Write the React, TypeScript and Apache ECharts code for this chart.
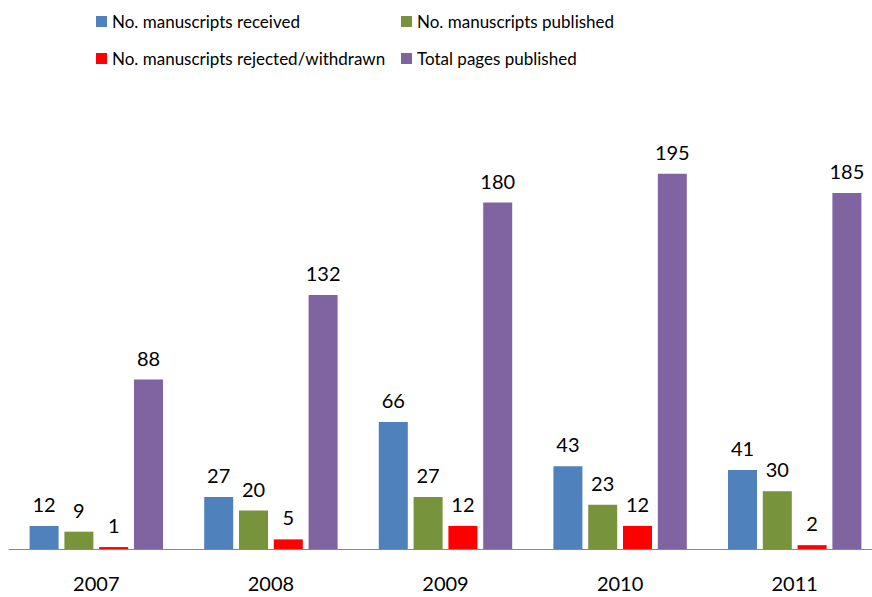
import React, { useEffect, useRef } from "react";
import * as echarts from "echarts";

const years = ["2007", "2008", "2009", "2010", "2011"];
const received = [12, 27, 66, 43, 41];
const published = [9, 20, 27, 23, 30];
const rejected = [1, 5, 12, 12, 2];
const totalPages = [88, 132, 180, 195, 185];

const seriesNames = [
  "No. manuscripts received",
  "No. manuscripts published",
  "No. manuscripts rejected/withdrawn",
  "Total pages published",
];
const colors = ["#4F81BD", "#77933C", "#FF0000", "#8064A2"];
const FONT = "Lato";

export default function App() {
  const ref = useRef<HTMLDivElement>(null);
  useEffect(() => {
    document.body.style.margin = "0";
    const chart = echarts.init(ref.current!, null, { renderer: "svg" });
    const datasets = [received, published, rejected, totalPages];
    const legendBase = {
      orient: "vertical",
      top: 13,
      padding: 0,
      itemWidth: 11,
      itemHeight: 11,
      itemGap: 20,
      icon: "rect",
      textStyle: { fontSize: 17, color: "#000", fontFamily: FONT },
    };
    chart.setOption({
      animation: false,
      backgroundColor: "#ffffff",
      textStyle: { fontFamily: FONT },
      legend: [
        { ...legendBase, left: 96, data: [seriesNames[0], seriesNames[2]] },
        { ...legendBase, left: 401, data: [seriesNames[1], seriesNames[3]] },
      ],
      grid: { left: 9, top: 164, width: 873, height: 385, containLabel: false },
      xAxis: {
        type: "category",
        data: years,
        axisLine: { lineStyle: { color: "#888888", width: 1 } },
        axisTick: { show: false },
        axisLabel: { fontSize: 20, color: "#000", margin: 24, fontFamily: FONT },
      },
      yAxis: {
        type: "value",
        min: 0,
        max: 200,
        show: false,
        splitLine: { show: false },
      },
      series: datasets.map((d, i) => ({
        name: seriesNames[i],
        type: "bar",
        data: d,
        barWidth: 29,
        barGap: "20%",
        itemStyle: { color: colors[i] },
        label: {
          show: true,
          position: "top",
          distance: 12,
          fontSize: 20,
          color: "#000",
          fontFamily: FONT,
        },
      })),
    });
    return () => chart.dispose();
  }, []);
  return (
    <div style={{ width: 872, height: 597, overflow: "hidden", position: "relative" }}>
      <div ref={ref} style={{ width: 884, height: 597 }} />
    </div>
  );
}
